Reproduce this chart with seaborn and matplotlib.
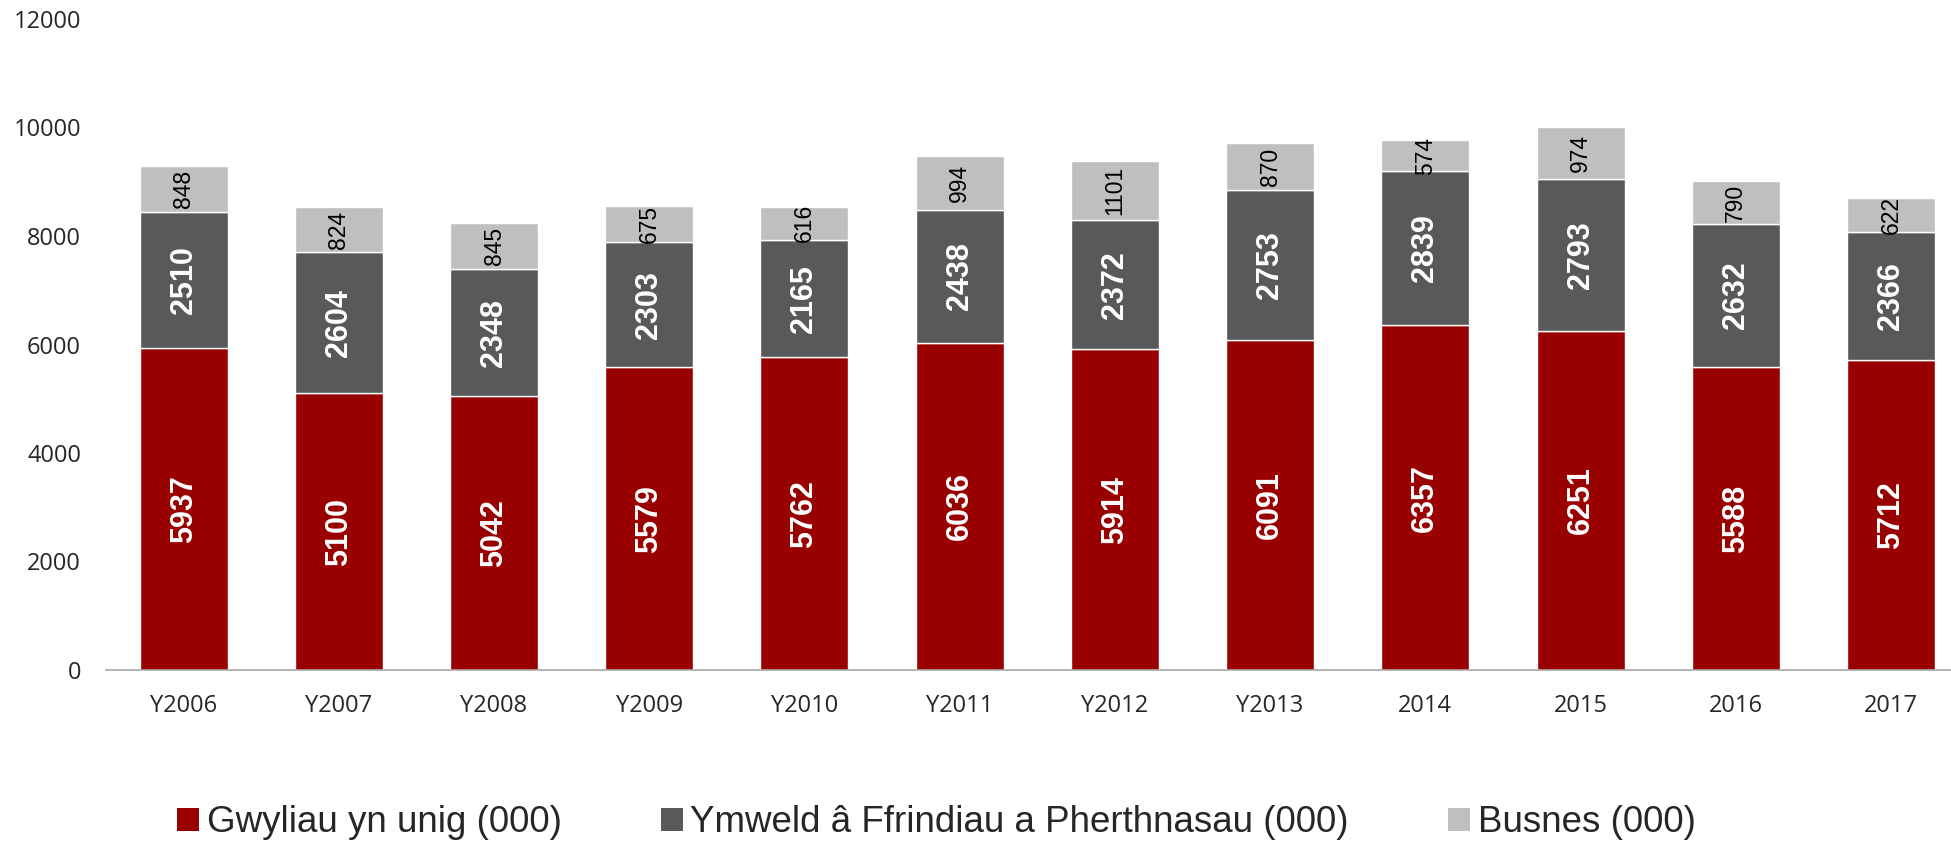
import numpy as np
import pandas as pd
import seaborn as sns
import matplotlib.pyplot as plt
from matplotlib.patches import Patch

years = ['Y2006', 'Y2007', 'Y2008', 'Y2009', 'Y2010', 'Y2011', 'Y2012', 'Y2013',
         '2014', '2015', '2016', '2017']
gwyliau = [5937, 5100, 5042, 5579, 5762, 6036, 5914, 6091, 6357, 6251, 5588, 5712]
ymweld = [2510, 2604, 2348, 2303, 2165, 2438, 2372, 2753, 2839, 2793, 2632, 2366]
busnes = [848, 824, 845, 675, 616, 994, 1101, 870, 574, 974, 790, 622]

names = ['Gwyliau yn unig (000)', 'Ymweld â Ffrindiau a Pherthnasau (000)', 'Busnes (000)']
colors = ['#990000', '#595959', '#BFBFBF']

sns.set_style('white')
plt.rcParams['font.family'] = ['Liberation Sans', 'DejaVu Sans']

df = pd.DataFrame({'year': years, 'g': gwyliau, 'y': ymweld, 'b': busnes})
df['b0'] = df['g'] + df['y']

fig = plt.figure(figsize=(19.51, 8.48), dpi=100)
ax = fig.add_axes([106 / 1951, 178 / 848, 1 - 106 / 1951, (670 - 19) / 848])

w = 0.567
sns.barplot(data=df, x='year', y='g', color=colors[0], width=w, saturation=1, ax=ax)
sns.barplot(data=df, x='year', y='y', bottom=df['g'], color=colors[1], width=w, saturation=1, ax=ax)
sns.barplot(data=df, x='year', y='b', bottom=df['b0'], color=colors[2], width=w, saturation=1, ax=ax)

for i, c in enumerate(ax.containers):
    if i < 2:
        ax.bar_label(c, label_type='center', rotation=90, color='white',
                     fontsize=22, fontweight='bold')
    else:
        ax.bar_label(c, label_type='center', rotation=90, color='black', fontsize=16.5)

ax.set_ylim(0, 12000)
ax.set_yticks(range(0, 12001, 2000))
ax.set_xlim(-0.5, 11.387)
ax.set_xlabel('')
ax.set_ylabel('')
for s in ['top', 'right', 'left']:
    ax.spines[s].set_visible(False)
ax.spines['bottom'].set_color('#A6A6A6')
ax.spines['bottom'].set_linewidth(1.2)
ax.tick_params(axis='y', length=0, pad=18)
ax.tick_params(axis='x', length=0, pad=17)
for lab in ax.get_xticklabels() + ax.get_yticklabels():
    lab.set_fontfamily('Open Sans')
    lab.set_fontsize(17)

handles = [Patch(facecolor=c, edgecolor='none') for c in colors]
fig.legend(handles, names, loc='center', bbox_to_anchor=(0.48, 25 / 848), ncol=3,
           frameon=False, fontsize=26.5, handlelength=0.6, handleheight=0.6,
           handletextpad=0.2, columnspacing=2.7)

fig.savefig('out.png', dpi=100)
